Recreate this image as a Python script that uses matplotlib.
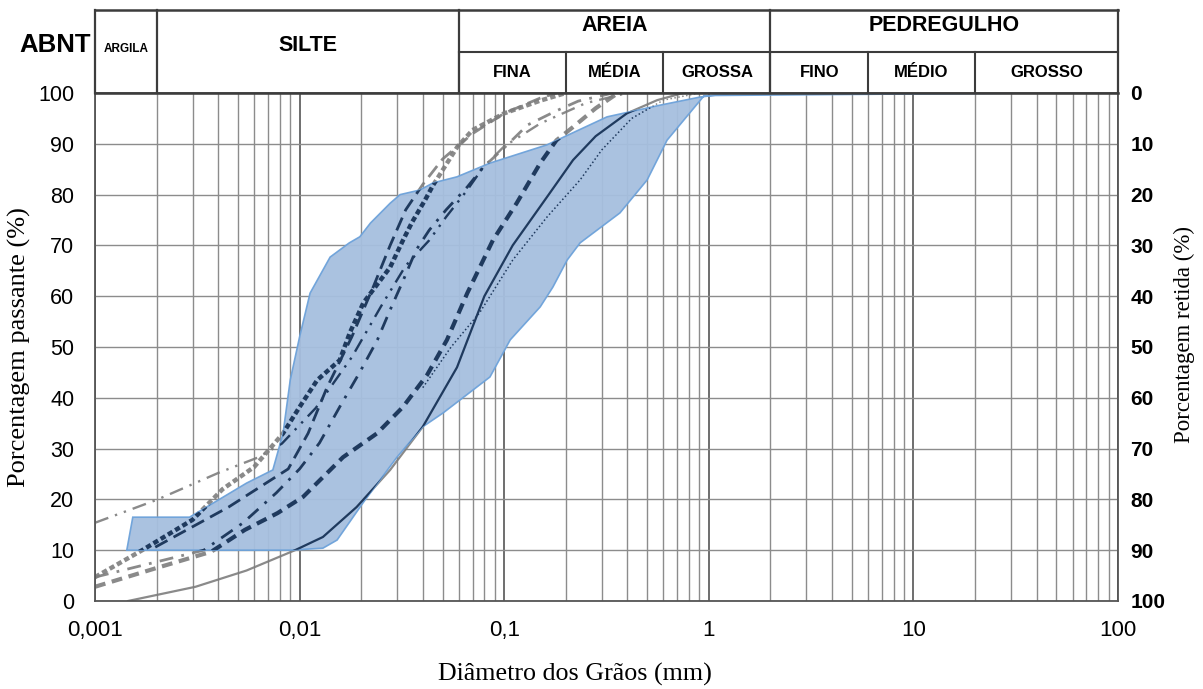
import numpy as np
import matplotlib
matplotlib.use("Agg")
import matplotlib.pyplot as plt
from matplotlib.ticker import LogLocator, FixedLocator, NullFormatter

# ---------------- data ----------------
# envelope (faixa granulométrica)
env_up_x = [0.00153, 0.0029, 0.0055, 0.0074, 0.0083, 0.009, 0.010, 0.01125, 0.0141, 0.0175,
            0.0197, 0.0222, 0.0277, 0.031, 0.0387, 0.0449, 0.0588, 0.0852, 0.162, 0.318,
            0.577, 0.906, 1.31, 40.0]
env_up_y = [16.5, 16.5, 23.2, 25.8, 33.0, 43.5, 52.0, 60.6, 67.7, 70.5,
            71.7, 74.4, 78.3, 80.0, 80.9, 82.3, 83.5, 86.2, 89.8, 95.3,
            97.6, 99.2, 100.0, 100.0]
env_lo_x = [0.00143, 0.009, 0.013, 0.01525, 0.0204, 0.0299, 0.040, 0.0502, 0.0852, 0.107,
            0.150, 0.173, 0.203, 0.235, 0.368, 0.50, 0.625, 0.95]
env_lo_y = [10.0, 10.0, 10.4, 12.0, 19.3, 28.3, 34.3, 37.0, 44.1, 51.4,
            57.9, 61.8, 67.1, 70.5, 76.4, 82.9, 90.7, 99.5]

# curvas granulométricas
solid_x = [0.00145, 0.0031, 0.0055, 0.0095, 0.013, 0.019, 0.0277, 0.040, 0.0588, 0.080,
           0.110, 0.165, 0.217, 0.280, 0.398, 0.56, 0.75]
solid_y = [0.0, 2.8, 6.0, 10.0, 12.6, 18.5, 25.8, 34.3, 46.0, 60.0,
           70.0, 80.0, 86.8, 91.5, 96.0, 98.6, 100.0]

dash_x = [0.001, 0.002, 0.0037, 0.0054, 0.0078, 0.0104, 0.0163, 0.0239, 0.032, 0.042,
          0.0525, 0.066, 0.088, 0.115, 0.150, 0.180, 0.217, 0.280, 0.36]
dash_y = [2.8, 6.5, 9.7, 14.0, 17.3, 20.5, 28.3, 33.0, 38.2, 44.5,
          51.4, 60.6, 71.0, 78.3, 86.2, 90.7, 93.3, 97.0, 100.0]

dot_x = [0.040, 0.055, 0.0757, 0.110, 0.162, 0.235, 0.300, 0.420, 0.60, 0.90]
dot_y = [42.0, 50.0, 56.7, 67.1, 75.6, 82.9, 88.8, 95.0, 98.6, 100.0]

bead_x = [0.001, 0.0017, 0.003, 0.0042, 0.006, 0.0083, 0.010, 0.0122, 0.0157, 0.0176,
          0.0205, 0.0277, 0.032, 0.0355, 0.041, 0.045, 0.059, 0.070, 0.100, 0.150, 0.20]
bead_y = [4.7, 10.0, 16.0, 22.0, 26.4, 33.0, 38.2, 43.5, 47.4, 52.8,
          58.7, 65.7, 71.0, 74.6, 78.9, 81.9, 89.4, 92.7, 96.0, 98.5, 100.0]

ldash_x = [0.00197, 0.0045, 0.0088, 0.011, 0.0136, 0.018, 0.023, 0.0277, 0.033, 0.040,
           0.050, 0.070, 0.100, 0.150, 0.18]
ldash_y = [10.6, 18.5, 26.0, 33.0, 42.0, 52.0, 62.0, 70.0, 77.0, 82.0,
           87.0, 92.0, 96.0, 99.0, 100.0]

dd_x = [0.001, 0.0034, 0.0053, 0.0077, 0.010, 0.0125, 0.0157, 0.0196, 0.024, 0.0277,
        0.032, 0.037, 0.043, 0.052, 0.066, 0.079, 0.100, 0.130, 0.180, 0.230, 0.34]
dd_y = [4.7, 10.0, 15.4, 21.3, 26.0, 31.1, 38.2, 44.9, 51.4, 57.3,
        63.0, 69.0, 73.0, 77.0, 81.5, 85.4, 89.2, 93.7, 96.5, 98.4, 100.0]

ddd_x = [0.001, 0.002, 0.004, 0.0063, 0.0082, 0.012, 0.018, 0.025, 0.033, 0.043,
         0.052, 0.066, 0.079, 0.100, 0.150, 0.250, 0.40]
ddd_y = [15.4, 19.9, 25.2, 28.3, 31.0, 38.0, 48.0, 58.0, 66.0, 71.0,
         75.6, 80.9, 85.4, 89.5, 94.0, 98.0, 100.0]

x_ticks = [0.001, 0.01, 0.1, 1, 10, 100]
x_ticklabels = ["0,001", "0,01", "0,1", "1", "10", "100"]
y_ticks = list(range(0, 101, 10))
ret_labels = [str(v) for v in range(0, 101, 10)]

# ABNT header
top_cells = [("ARGILA", 0.001, 0.002), ("SILTE", 0.002, 0.06),
             ("AREIA", 0.06, 2.0), ("PEDREGULHO", 2.0, 100.0)]
sub_cells = [("FINA", 0.06, 0.2), ("MÉDIA", 0.2, 0.6), ("GROSSA", 0.6, 2.0),
             ("FINO", 2.0, 6.0), ("MÉDIO", 6.0, 20.0), ("GROSSO", 20.0, 100.0)]

# ---------------- figure ----------------
W, H = 1203, 689
fig = plt.figure(figsize=(W / 100, H / 100), dpi=100)
L, R, B, T, HT = 95, 1118, 601, 93, 10
ax = fig.add_axes([L / W, 1 - B / H, (R - L) / W, (B - T) / H])
hx = fig.add_axes([L / W, 1 - T / H, (R - L) / W, (T - HT) / H])

navy = "#1f3a5e"
gray = "#7d7d7d"
gridc = "#8c8c8c"

ax.set_xscale("log")
ax.set_xlim(0.001, 100)
ax.set_ylim(0, 100)
ax.set_axisbelow(True)
ax.set_xticks(x_ticks)
ax.set_xticklabels(x_ticklabels)
ax.xaxis.set_minor_locator(LogLocator(base=10, subs=np.arange(2, 10)))
ax.xaxis.set_minor_formatter(NullFormatter())
ax.set_yticks(y_ticks)
ax.grid(which="major", axis="x", color="#6e6e6e", lw=1.4)
ax.grid(which="minor", axis="x", color=gridc, lw=1.0)
ax.grid(which="major", axis="y", color=gridc, lw=1.0)
ax.tick_params(which="both", length=0)
ax.tick_params(axis="x", labelsize=16, pad=14)
ax.tick_params(axis="y", labelsize=15.5, pad=15)
for lab in ax.get_xticklabels() + ax.get_yticklabels():
    lab.set_family("Liberation Sans")
for s in ax.spines.values():
    s.set_color("#555555")
    s.set_linewidth(1.3)

# envelope
env_x = list(env_up_x) + list(env_lo_x[::-1])
env_y = list(env_up_y) + list(env_lo_y[::-1])
poly = ax.fill(env_x, env_y, facecolor="#a6bfdf", edgecolor="#6da2da",
               lw=1.2, alpha=0.95, zorder=3)[0]

styles = [
    (solid_x, solid_y, dict(ls="-", lw=1.6)),
    (dash_x, dash_y, dict(ls=(0, (2.6, 1.6)), lw=3.0)),
    (dot_x, dot_y, dict(ls=(0, (1, 1.6)), lw=1.1)),
    (bead_x, bead_y, dict(ls=(0, (1.2, 0.7)), lw=3.2)),
    (ldash_x, ldash_y, dict(ls=(0, (5, 2.5)), lw=2.0)),
    (dd_x, dd_y, dict(ls=(0, (5, 3, 1, 3)), lw=2.0)),
    (ddd_x, ddd_y, dict(ls=(0, (6, 3, 1, 3, 1, 3)), lw=1.7)),
]
for xs, ys, kw in styles:
    ax.plot(xs, ys, color=gray, zorder=2, alpha=0.9, **kw)
    ln, = ax.plot(xs, ys, color=navy, zorder=4, **kw)
    ln.set_clip_path(poly)

ax.set_xlabel("Diâmetro dos Grãos (mm)", family="Liberation Serif", fontsize=18.7)
ax.xaxis.set_label_coords((575 - L) / (R - L), (B - 663) / (B - T))
ax.set_ylabel("Porcentagem passante (%)", family="Liberation Serif", fontsize=19)
ax.yaxis.set_label_coords((31 - L) / (R - L), 0.5)

# right axis (porcentagem retida)
ax2 = ax.twinx()
ax2.set_ylim(100, 0)
ax2.set_yticks([int(v) for v in ret_labels])
ax2.set_yticklabels(ret_labels)
ax2.tick_params(length=0, labelsize=15, pad=9)
for lab in ax2.get_yticklabels():
    lab.set_family("Liberation Sans")
    lab.set_fontweight("bold")
for s in ax2.spines.values():
    s.set_visible(False)
ax2.set_ylabel("Porcentagem retida (%)", family="Liberation Serif", fontsize=16.5)
ax2.yaxis.set_label_coords((1174 - L) / (R - L), 0.525)

# header table
hx.set_xscale("log")
hx.set_xlim(0.001, 100)
hx.set_ylim(0, 2)
hx.axis("off")
lc = "#3c3c3c"
hx.plot([0.001, 100], [2, 2], color=lc, lw=1.8, clip_on=False)
hx.plot([0.001, 100], [0, 0], color=lc, lw=1.8, clip_on=False)
hx.plot([0.06, 100], [1, 1], color=lc, lw=1.5, clip_on=False)
for name, a, b in top_cells:
    hx.plot([a, a], [0, 2], color=lc, lw=1.6, clip_on=False)
    if name == "ARGILA":
        hx.text(np.sqrt(a * b), 1.05, name, ha="center", va="center",
                fontsize=8.5, fontweight="bold", family="Liberation Sans")
    elif name == "SILTE":
        hx.text(np.sqrt(a * b), 1.15, name, ha="center", va="center",
                fontsize=15.5, fontweight="bold", family="Liberation Sans")
    else:
        hx.text(np.sqrt(a * b), 1.63, name, ha="center", va="center",
                fontsize=15.5, fontweight="bold", family="Liberation Sans")
hx.plot([100, 100], [0, 2], color=lc, lw=1.6, clip_on=False)
for name, a, b in sub_cells:
    hx.plot([a, a], [0, 1], color=lc, lw=1.5, clip_on=False)
    hx.text(np.sqrt(a * b), 0.5, name, ha="center", va="center",
            fontsize=12, fontweight="bold", family="Liberation Sans")
fig.text(55 / W, 1 - 45 / H, "ABNT", ha="center", va="center",
         fontsize=18.5, fontweight="bold", family="Liberation Sans")

fig.savefig("out.png", dpi=100)
